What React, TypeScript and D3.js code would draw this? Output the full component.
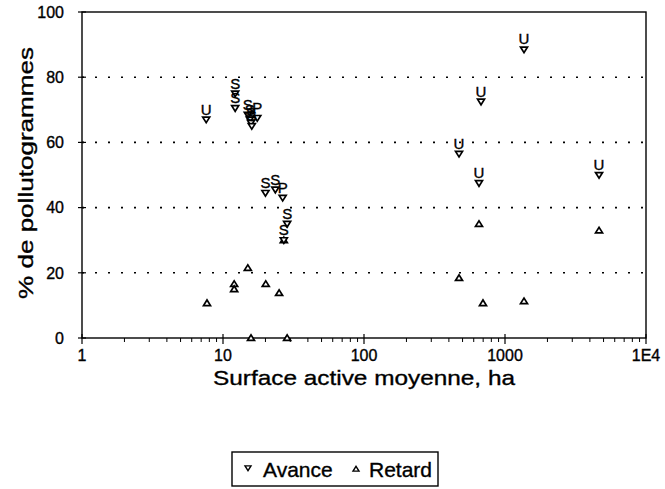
import React from "react";
import * as d3 from "d3";

const W = 665;
const H = 489;

// Avance (downward triangles) with their labels
const avanceX = [7.6, 12.2, 12.2, 15.0, 17.5, 15.5, 15.8, 16.0, 20, 23.5, 26.5, 28.5, 27, 472, 676, 654, 1364, 4645];
const avanceY = [67, 75, 70.5, 68.5, 67.5, 67, 66, 65, 44.5, 45.5, 43, 35, 30, 56.5, 72.5, 47.5, 88.5, 50];
const avanceLbl = ["U", "S", "S", "S", "P", "S", "S", "S", "S", "S", "P", "S", "S", "U", "U", "U", "U", "U"];

// Retard (upward triangles)
const retardX = [7.7, 12, 12, 15, 20.1, 25, 15.8, 28.5, 27, 654, 4645, 472, 698, 1364];
const retardY = [10.7, 16.6, 15, 21.5, 16.6, 13.8, 0, 0, 30, 35, 33, 18.4, 10.7, 11.3];

const yTicks = [0, 20, 40, 60, 80, 100];
const yGrid = [20, 40, 60, 80];
const xTicks = [1, 10, 100, 1000, 10000];
const xTickLbl = ["1", "10", "100", "1000", "1E4"];

const FONT = "'Liberation Sans', Arial, sans-serif";

const down = (cx: number, cy: number, s = 3.5) =>
  `M${cx - s},${cy - s * 0.7}L${cx + s},${cy - s * 0.7}L${cx},${cy + s * 0.9}Z`;
const up = (cx: number, cy: number, s = 3.5) =>
  `M${cx - s},${cy + s * 0.7}L${cx + s},${cy + s * 0.7}L${cx},${cy - s * 0.9}Z`;

export default function App() {
  const left = 82, right = 646, top = 12, bottom = 338;
  const x = d3.scaleLog().domain([1, 10000]).range([left, right]);
  const y = d3.scaleLinear().domain([0, 100]).range([bottom, top]);

  const minor: number[] = [];
  for (let d = 1; d < 10000; d *= 10) for (let k = 2; k <= 9; k++) minor.push(d * k);

  const heavy = { stroke: "#000", strokeWidth: 0.35 };

  return (
    <svg width={W} height={H} style={{ position: "absolute", left: 0, top: 0, background: "#fff" }} fontFamily={FONT}>
      <rect x={0} y={0} width={W} height={H} fill="#fff" />
      {/* grid */}
      {yGrid.map((v) => (
        <line key={"g" + v} x1={left} x2={right} y1={y(v)} y2={y(v)} stroke="#000" strokeWidth={1.6} strokeDasharray="2,11" />
      ))}
      {/* frame */}
      <rect x={left} y={top} width={right - left} height={bottom - top} fill="none" stroke="#000" strokeWidth={1.4} />
      {/* y ticks */}
      {yTicks.map((v) => (
        <g key={"yt" + v}>
          <line x1={left - 4} x2={left + 4} y1={y(v)} y2={y(v)} stroke="#000" strokeWidth={1.2} />
          <text x={left - 18} y={y(v)} dy="0.36em" textAnchor="end" fontSize={16} fill="#000" {...heavy}>{v}</text>
        </g>
      ))}
      {/* x ticks */}
      {xTicks.map((v, i) => (
        <g key={"xt" + v}>
          <line x1={x(v)} x2={x(v)} y1={bottom - 4} y2={bottom + 6} stroke="#000" strokeWidth={1.2} />
          <text x={x(v)} y={bottom + 23} textAnchor="middle" fontSize={16} fill="#000" {...heavy}>{xTickLbl[i]}</text>
        </g>
      ))}
      {minor.map((v) => (
        <line key={"m" + v} x1={x(v)} x2={x(v)} y1={bottom} y2={bottom + 4} stroke="#000" strokeWidth={1} />
      ))}
      {/* axis titles */}
      <text x={364} y={bottom + 31} dy="0.75em" textAnchor="middle" fontSize={21} fill="#000" textLength={302} lengthAdjust="spacingAndGlyphs" {...heavy}>
        Surface active moyenne, ha
      </text>
      <text transform={`translate(33,${(top + bottom) / 2 - 2}) rotate(-90)`} textAnchor="middle" fontSize={21} fill="#000" textLength={252} lengthAdjust="spacingAndGlyphs" {...heavy}>
        % de pollutogrammes
      </text>
      {/* retard */}
      {retardX.map((v, i) => (
        <path key={"r" + i} d={up(x(v), y(retardY[i]))} fill="#fff" stroke="#000" strokeWidth={1.7} />
      ))}
      {/* avance */}
      {avanceX.map((v, i) => (
        <path key={"a" + i} d={down(x(v), y(avanceY[i]))} fill="#fff" stroke="#000" strokeWidth={1.7} />
      ))}
      {avanceX.map((v, i) => (
        <text key={"l" + i} x={x(v)} y={y(avanceY[i]) - 5} textAnchor="middle" fontSize={15} fill="#000" {...heavy}>
          {avanceLbl[i]}
        </text>
      ))}
      {/* legend */}
      <rect x={232} y={452} width={206} height={34} fill="#fff" stroke="#000" strokeWidth={1.4} />
      <path d={down(248, 468, 3)} fill="#fff" stroke="#000" strokeWidth={1.4} />
      <text x={263} y={469} dy="0.36em" fontSize={21} fill="#000" {...heavy}>Avance</text>
      <path d={up(356, 469, 3)} fill="#fff" stroke="#000" strokeWidth={1.4} />
      <text x={369} y={469} dy="0.36em" fontSize={21} fill="#000" {...heavy}>Retard</text>
    </svg>
  );
}
